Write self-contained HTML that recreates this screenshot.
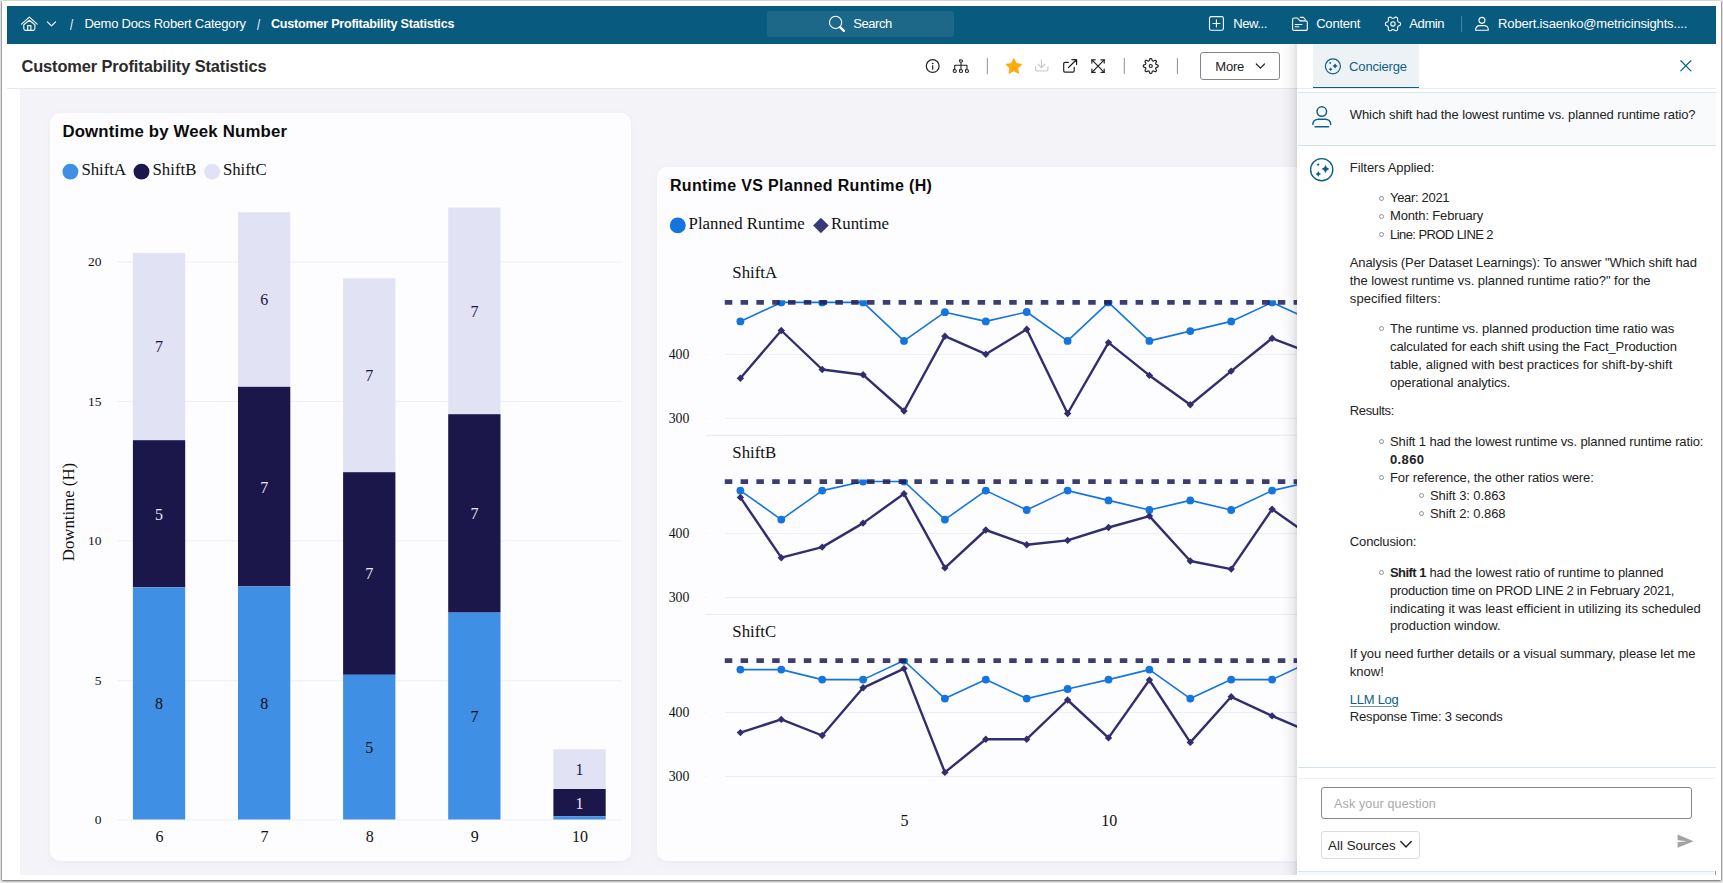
<!DOCTYPE html>
<html lang="en"><head><meta charset="utf-8">
<title>Customer Profitability Statistics</title>
<style>
html,body{margin:0;padding:0}
body{width:1723px;height:883px;overflow:hidden;position:relative;background:#ececec;font-family:"Liberation Sans",sans-serif;color:#222}
.abs{position:absolute}
.t{position:absolute;white-space:nowrap;line-height:1;display:block}
#frame{position:absolute;left:2px;top:1px;width:1719px;height:879px;background:#fff;box-shadow:0 1px 2px rgba(0,0,0,.55),-1px 0 1px rgba(0,0,0,.17),1px 0 1px rgba(0,0,0,.17)}
#hdr{position:absolute;left:7px;top:6px;width:1709px;height:38px;background:#085a7e}
#search{position:absolute;left:767px;top:11px;width:187px;height:26px;border-radius:3px;background:#1d6788}
#dash{position:absolute;left:20px;top:88px;width:1277px;height:787px;background:#f3f3f8}
#tbline{position:absolute;left:7px;top:88px;width:1290px;height:1px;background:#e6e6ec}
.card{position:absolute;background:#fdfdff;border-radius:10px;box-shadow:0 2px 8px rgba(90,90,160,.05)}
#panel{position:absolute;left:1297px;top:44px;width:419px;height:831px;background:#fff}
#pshadow{position:absolute;left:1281px;top:44px;width:16px;height:831px;background:linear-gradient(to right,rgba(0,0,0,0) 0%,rgba(0,0,0,.025) 45%,rgba(0,0,0,.07) 80%,rgba(0,0,0,.13) 100%)}
#more{position:absolute;left:1200px;top:52px;width:78px;height:26px;border:1px solid #858585;border-radius:3px;background:#fff}
#tab{position:absolute;left:1313px;top:44px;width:106px;height:43.4px;background:#ecf2f6;border-bottom:1.6px solid #0f5f85}
#qa{position:absolute;left:1298px;top:92px;width:418px;height:54px;background:#f8fafb;border-top:1px solid #d9e6ed;border-bottom:1px solid #d3e2ea;box-sizing:border-box}
#ask{position:absolute;left:1321px;top:787px;width:371px;height:31.5px;border:1px solid #888;border-radius:3px;box-sizing:border-box;background:#fff}
#src{position:absolute;left:1321px;top:831px;width:99px;height:28px;border:1px solid #dcdcdc;border-radius:3px;box-sizing:border-box;background:#fff}
.hl{position:absolute;height:1px}
.bul{position:absolute;width:3px;height:3px;border:.8px solid #939393;border-radius:50%}
svg{position:absolute;left:0;top:0;overflow:visible}
svg text{font-family:"Liberation Serif",serif}
</style></head><body>
<div id="frame"></div>
<div id="hdr"></div>
<div id="search"></div>
<div id="dash"></div>
<div id="tbline"></div>
<div class="card" style="left:50px;top:112.5px;width:581px;height:748px"></div>
<div class="card" style="left:656.5px;top:166.5px;width:700px;height:694px"></div>

<svg width="1723" height="883" viewBox="0 0 1723 883">
<line x1="117" x2="621.5" y1="262.1" y2="262.1" stroke="#eeeef8" stroke-width="1"/>
<line x1="117" x2="621.5" y1="401.4" y2="401.4" stroke="#eeeef8" stroke-width="1"/>
<line x1="117" x2="621.5" y1="540.8" y2="540.8" stroke="#eeeef8" stroke-width="1"/>
<line x1="117" x2="621.5" y1="680.7" y2="680.7" stroke="#eeeef8" stroke-width="1"/>
<line x1="117" x2="621.5" y1="819.9" y2="819.9" stroke="#eeeef8" stroke-width="1"/>
<rect x="132.9" y="252.9" width="52.3" height="187.3" fill="#e1e2f3"/>
<rect x="132.9" y="440.2" width="52.3" height="147.1" fill="#1b174b"/>
<rect x="132.9" y="587.3" width="52.3" height="232.2" fill="#3f90e5"/>
<text x="159.1" y="709.3" font-size="16" text-anchor="middle" fill="#0a0a14">8</text>
<text x="159.1" y="519.6" font-size="16" text-anchor="middle" fill="#e9e9f6">5</text>
<text x="159.1" y="352.4" font-size="16" text-anchor="middle" fill="#1b174b">7</text>
<text x="159.5" y="842.2" font-size="16" text-anchor="middle" fill="#111">6</text>
<rect x="238.0" y="212.2" width="52.3" height="174.6" fill="#e1e2f3"/>
<rect x="238.0" y="386.8" width="52.3" height="199.6" fill="#1b174b"/>
<rect x="238.0" y="586.4" width="52.3" height="233.1" fill="#3f90e5"/>
<text x="264.2" y="708.9" font-size="16" text-anchor="middle" fill="#0a0a14">8</text>
<text x="264.2" y="492.5" font-size="16" text-anchor="middle" fill="#e9e9f6">7</text>
<text x="264.2" y="305.4" font-size="16" text-anchor="middle" fill="#1b174b">6</text>
<text x="264.6" y="842.2" font-size="16" text-anchor="middle" fill="#111">7</text>
<rect x="343.1" y="278.4" width="52.3" height="193.8" fill="#e1e2f3"/>
<rect x="343.1" y="472.2" width="52.3" height="202.6" fill="#1b174b"/>
<rect x="343.1" y="674.8" width="52.3" height="144.7" fill="#3f90e5"/>
<text x="369.3" y="753.0" font-size="16" text-anchor="middle" fill="#0a0a14">5</text>
<text x="369.3" y="579.4" font-size="16" text-anchor="middle" fill="#e9e9f6">7</text>
<text x="369.3" y="381.2" font-size="16" text-anchor="middle" fill="#1b174b">7</text>
<text x="369.7" y="842.2" font-size="16" text-anchor="middle" fill="#111">8</text>
<rect x="448.2" y="207.7" width="52.3" height="206.5" fill="#e1e2f3"/>
<rect x="448.2" y="414.2" width="52.3" height="198.4" fill="#1b174b"/>
<rect x="448.2" y="612.6" width="52.3" height="206.9" fill="#3f90e5"/>
<text x="474.4" y="721.9" font-size="16" text-anchor="middle" fill="#0a0a14">7</text>
<text x="474.4" y="519.3" font-size="16" text-anchor="middle" fill="#e9e9f6">7</text>
<text x="474.4" y="316.8" font-size="16" text-anchor="middle" fill="#1b174b">7</text>
<text x="474.8" y="842.2" font-size="16" text-anchor="middle" fill="#111">9</text>
<rect x="553.4" y="749.3" width="52.3" height="39.7" fill="#e1e2f3"/>
<rect x="553.4" y="789.0" width="52.3" height="27.3" fill="#1b174b"/>
<rect x="553.4" y="816.3" width="52.3" height="3.2" fill="#3f90e5"/>
<text x="579.5" y="808.5" font-size="16" text-anchor="middle" fill="#e9e9f6">1</text>
<text x="579.5" y="775.0" font-size="16" text-anchor="middle" fill="#1b174b">1</text>
<text x="579.9" y="842.2" font-size="16" text-anchor="middle" fill="#111">10</text>
<text x="101.5" y="266.2" font-size="13.5" text-anchor="end" fill="#111">20</text>
<text x="101.5" y="405.5" font-size="13.5" text-anchor="end" fill="#111">15</text>
<text x="101.5" y="544.9" font-size="13.5" text-anchor="end" fill="#111">10</text>
<text x="101.5" y="684.8" font-size="13.5" text-anchor="end" fill="#111">5</text>
<text x="101.5" y="824.0" font-size="13.5" text-anchor="end" fill="#111">0</text>
<text transform="translate(73.5 512) rotate(-90)" font-size="16.8" text-anchor="middle" fill="#111">Downtime (H)</text>
<circle cx="70.4" cy="171.6" r="7.95" fill="#3f90e5"/>
<circle cx="141.5" cy="171.6" r="7.95" fill="#1b174b"/>
<circle cx="212.1" cy="171.6" r="7.95" fill="#e1e2f3"/>
<text x="81.4" y="174.8" font-size="16.8" fill="#111">ShiftA</text>
<text x="152.5" y="174.8" font-size="16.8" fill="#111">ShiftB</text>
<text x="222.9" y="174.8" font-size="16.8" fill="#111">ShiftC</text>
<line x1="725" x2="1340" y1="354.4" y2="354.4" stroke="#eeeef8" stroke-width="1"/>
<line x1="705" x2="706.4" y1="354.4" y2="354.4" stroke="#eeeef8" stroke-width="1"/>
<text x="668.7" y="358.8" font-size="13.8" fill="#111">400</text>
<line x1="725" x2="1340" y1="418.4" y2="418.4" stroke="#eeeef8" stroke-width="1"/>
<line x1="705" x2="706.4" y1="418.4" y2="418.4" stroke="#eeeef8" stroke-width="1"/>
<text x="668.7" y="423.3" font-size="13.8" fill="#111">300</text>
<line x1="706" x2="1340" y1="435.3" y2="435.3" stroke="#e9e9f2" stroke-width="1"/>
<text x="732.3" y="278.2" font-size="16.8" fill="#111">ShiftA</text>
<polyline points="740.4,321.4 781.3,302.4 822.2,302.4 863.1,302.4 904.0,340.9 944.9,312.2 985.8,321.4 1026.7,312.0 1067.6,340.9 1108.5,302.4 1149.4,340.9 1190.3,331.1 1231.2,321.4 1272.1,302.4 1313.0,321.0" fill="none" stroke="#1474e0" stroke-width="1.6" stroke-linejoin="round"/>
<clipPath id="clShiftA"><rect x="700" y="300.3" width="700" height="160"/></clipPath><g clip-path="url(#clShiftA)">
<circle cx="740.4" cy="321.4" r="3.9" fill="#1474e0"/>
<circle cx="781.3" cy="302.4" r="3.9" fill="#1474e0"/>
<circle cx="822.2" cy="302.4" r="3.9" fill="#1474e0"/>
<circle cx="863.1" cy="302.4" r="3.9" fill="#1474e0"/>
<circle cx="904.0" cy="340.9" r="3.9" fill="#1474e0"/>
<circle cx="944.9" cy="312.2" r="3.9" fill="#1474e0"/>
<circle cx="985.8" cy="321.4" r="3.9" fill="#1474e0"/>
<circle cx="1026.7" cy="312.0" r="3.9" fill="#1474e0"/>
<circle cx="1067.6" cy="340.9" r="3.9" fill="#1474e0"/>
<circle cx="1108.5" cy="302.4" r="3.9" fill="#1474e0"/>
<circle cx="1149.4" cy="340.9" r="3.9" fill="#1474e0"/>
<circle cx="1190.3" cy="331.1" r="3.9" fill="#1474e0"/>
<circle cx="1231.2" cy="321.4" r="3.9" fill="#1474e0"/>
<circle cx="1272.1" cy="302.4" r="3.9" fill="#1474e0"/>
<circle cx="1313.0" cy="321.0" r="3.9" fill="#1474e0"/>
</g>
<line x1="724.8" x2="1340" y1="302.4" y2="302.4" stroke="#1e1d57" stroke-opacity=".86" stroke-width="4.8" stroke-dasharray="7.5 8.3"/>
<polyline points="740.4,378.2 781.3,330.5 822.2,369.5 863.1,374.8 904.0,411.0 944.9,336.2 985.8,354.2 1026.7,329.3 1067.6,413.5 1108.5,342.6 1149.4,375.4 1190.3,404.7 1231.2,371.1 1272.1,338.3 1313.0,353.8" fill="none" stroke="#322e6e" stroke-width="2.4" stroke-linejoin="round"/>
<path d="M740.4 374.5l3.7 3.7l-3.7 3.7l-3.7 -3.7z" fill="#322e6e"/>
<path d="M781.3 326.8l3.7 3.7l-3.7 3.7l-3.7 -3.7z" fill="#322e6e"/>
<path d="M822.2 365.8l3.7 3.7l-3.7 3.7l-3.7 -3.7z" fill="#322e6e"/>
<path d="M863.1 371.1l3.7 3.7l-3.7 3.7l-3.7 -3.7z" fill="#322e6e"/>
<path d="M904.0 407.3l3.7 3.7l-3.7 3.7l-3.7 -3.7z" fill="#322e6e"/>
<path d="M944.9 332.5l3.7 3.7l-3.7 3.7l-3.7 -3.7z" fill="#322e6e"/>
<path d="M985.8 350.5l3.7 3.7l-3.7 3.7l-3.7 -3.7z" fill="#322e6e"/>
<path d="M1026.7 325.6l3.7 3.7l-3.7 3.7l-3.7 -3.7z" fill="#322e6e"/>
<path d="M1067.6 409.8l3.7 3.7l-3.7 3.7l-3.7 -3.7z" fill="#322e6e"/>
<path d="M1108.5 338.9l3.7 3.7l-3.7 3.7l-3.7 -3.7z" fill="#322e6e"/>
<path d="M1149.4 371.7l3.7 3.7l-3.7 3.7l-3.7 -3.7z" fill="#322e6e"/>
<path d="M1190.3 401.0l3.7 3.7l-3.7 3.7l-3.7 -3.7z" fill="#322e6e"/>
<path d="M1231.2 367.4l3.7 3.7l-3.7 3.7l-3.7 -3.7z" fill="#322e6e"/>
<path d="M1272.1 334.6l3.7 3.7l-3.7 3.7l-3.7 -3.7z" fill="#322e6e"/>
<path d="M1313.0 350.1l3.7 3.7l-3.7 3.7l-3.7 -3.7z" fill="#322e6e"/>
<line x1="725" x2="1340" y1="533.4" y2="533.4" stroke="#eeeef8" stroke-width="1"/>
<line x1="705" x2="706.4" y1="533.4" y2="533.4" stroke="#eeeef8" stroke-width="1"/>
<text x="668.7" y="537.8" font-size="13.8" fill="#111">400</text>
<line x1="725" x2="1340" y1="597.5" y2="597.5" stroke="#eeeef8" stroke-width="1"/>
<line x1="705" x2="706.4" y1="597.5" y2="597.5" stroke="#eeeef8" stroke-width="1"/>
<text x="668.7" y="602.4" font-size="13.8" fill="#111">300</text>
<line x1="706" x2="1340" y1="614.4" y2="614.4" stroke="#e9e9f2" stroke-width="1"/>
<text x="732.3" y="457.7" font-size="16.8" fill="#111">ShiftB</text>
<polyline points="740.4,490.6 781.3,519.6 822.2,490.6 863.1,481.5 904.0,481.5 944.9,519.6 985.8,490.6 1026.7,510.0 1067.6,490.6 1108.5,500.4 1149.4,510.0 1190.3,500.4 1231.2,510.0 1272.1,490.6 1313.0,481.3" fill="none" stroke="#1474e0" stroke-width="1.6" stroke-linejoin="round"/>
<clipPath id="clShiftB"><rect x="700" y="479.6" width="700" height="160"/></clipPath><g clip-path="url(#clShiftB)">
<circle cx="740.4" cy="490.6" r="3.9" fill="#1474e0"/>
<circle cx="781.3" cy="519.6" r="3.9" fill="#1474e0"/>
<circle cx="822.2" cy="490.6" r="3.9" fill="#1474e0"/>
<circle cx="863.1" cy="481.5" r="3.9" fill="#1474e0"/>
<circle cx="904.0" cy="481.5" r="3.9" fill="#1474e0"/>
<circle cx="944.9" cy="519.6" r="3.9" fill="#1474e0"/>
<circle cx="985.8" cy="490.6" r="3.9" fill="#1474e0"/>
<circle cx="1026.7" cy="510.0" r="3.9" fill="#1474e0"/>
<circle cx="1067.6" cy="490.6" r="3.9" fill="#1474e0"/>
<circle cx="1108.5" cy="500.4" r="3.9" fill="#1474e0"/>
<circle cx="1149.4" cy="510.0" r="3.9" fill="#1474e0"/>
<circle cx="1190.3" cy="500.4" r="3.9" fill="#1474e0"/>
<circle cx="1231.2" cy="510.0" r="3.9" fill="#1474e0"/>
<circle cx="1272.1" cy="490.6" r="3.9" fill="#1474e0"/>
<circle cx="1313.0" cy="481.3" r="3.9" fill="#1474e0"/>
</g>
<line x1="724.8" x2="1340" y1="481.7" y2="481.7" stroke="#1e1d57" stroke-opacity=".86" stroke-width="4.8" stroke-dasharray="7.5 8.3"/>
<polyline points="740.4,497.4 781.3,557.7 822.2,547.1 863.1,523.1 904.0,493.7 944.9,567.9 985.8,530.0 1026.7,544.7 1067.6,540.4 1108.5,527.5 1149.4,516.1 1190.3,561.0 1231.2,569.1 1272.1,509.2 1313.0,538.1" fill="none" stroke="#322e6e" stroke-width="2.4" stroke-linejoin="round"/>
<path d="M740.4 493.7l3.7 3.7l-3.7 3.7l-3.7 -3.7z" fill="#322e6e"/>
<path d="M781.3 554.0l3.7 3.7l-3.7 3.7l-3.7 -3.7z" fill="#322e6e"/>
<path d="M822.2 543.4l3.7 3.7l-3.7 3.7l-3.7 -3.7z" fill="#322e6e"/>
<path d="M863.1 519.4l3.7 3.7l-3.7 3.7l-3.7 -3.7z" fill="#322e6e"/>
<path d="M904.0 490.0l3.7 3.7l-3.7 3.7l-3.7 -3.7z" fill="#322e6e"/>
<path d="M944.9 564.2l3.7 3.7l-3.7 3.7l-3.7 -3.7z" fill="#322e6e"/>
<path d="M985.8 526.3l3.7 3.7l-3.7 3.7l-3.7 -3.7z" fill="#322e6e"/>
<path d="M1026.7 541.0l3.7 3.7l-3.7 3.7l-3.7 -3.7z" fill="#322e6e"/>
<path d="M1067.6 536.7l3.7 3.7l-3.7 3.7l-3.7 -3.7z" fill="#322e6e"/>
<path d="M1108.5 523.8l3.7 3.7l-3.7 3.7l-3.7 -3.7z" fill="#322e6e"/>
<path d="M1149.4 512.4l3.7 3.7l-3.7 3.7l-3.7 -3.7z" fill="#322e6e"/>
<path d="M1190.3 557.3l3.7 3.7l-3.7 3.7l-3.7 -3.7z" fill="#322e6e"/>
<path d="M1231.2 565.4l3.7 3.7l-3.7 3.7l-3.7 -3.7z" fill="#322e6e"/>
<path d="M1272.1 505.5l3.7 3.7l-3.7 3.7l-3.7 -3.7z" fill="#322e6e"/>
<path d="M1313.0 534.4l3.7 3.7l-3.7 3.7l-3.7 -3.7z" fill="#322e6e"/>
<line x1="725" x2="1340" y1="712.4" y2="712.4" stroke="#eeeef8" stroke-width="1"/>
<line x1="705" x2="706.4" y1="712.4" y2="712.4" stroke="#eeeef8" stroke-width="1"/>
<text x="668.7" y="716.8" font-size="13.8" fill="#111">400</text>
<line x1="725" x2="1340" y1="776.5" y2="776.5" stroke="#eeeef8" stroke-width="1"/>
<line x1="705" x2="706.4" y1="776.5" y2="776.5" stroke="#eeeef8" stroke-width="1"/>
<text x="668.7" y="781.4" font-size="13.8" fill="#111">300</text>
<text x="732.3" y="636.6999999999999" font-size="16.8" fill="#111">ShiftC</text>
<polyline points="740.4,669.6 781.3,669.6 822.2,679.6 863.1,679.6 904.0,660.5 944.9,698.6 985.8,679.6 1026.7,698.6 1067.6,689.0 1108.5,679.6 1149.4,669.6 1190.3,698.6 1231.2,679.6 1272.1,679.6 1313.0,660.5" fill="none" stroke="#1474e0" stroke-width="1.6" stroke-linejoin="round"/>
<clipPath id="clShiftC"><rect x="700" y="658.6" width="700" height="160"/></clipPath><g clip-path="url(#clShiftC)">
<circle cx="740.4" cy="669.6" r="3.9" fill="#1474e0"/>
<circle cx="781.3" cy="669.6" r="3.9" fill="#1474e0"/>
<circle cx="822.2" cy="679.6" r="3.9" fill="#1474e0"/>
<circle cx="863.1" cy="679.6" r="3.9" fill="#1474e0"/>
<circle cx="904.0" cy="660.5" r="3.9" fill="#1474e0"/>
<circle cx="944.9" cy="698.6" r="3.9" fill="#1474e0"/>
<circle cx="985.8" cy="679.6" r="3.9" fill="#1474e0"/>
<circle cx="1026.7" cy="698.6" r="3.9" fill="#1474e0"/>
<circle cx="1067.6" cy="689.0" r="3.9" fill="#1474e0"/>
<circle cx="1108.5" cy="679.6" r="3.9" fill="#1474e0"/>
<circle cx="1149.4" cy="669.6" r="3.9" fill="#1474e0"/>
<circle cx="1190.3" cy="698.6" r="3.9" fill="#1474e0"/>
<circle cx="1231.2" cy="679.6" r="3.9" fill="#1474e0"/>
<circle cx="1272.1" cy="679.6" r="3.9" fill="#1474e0"/>
<circle cx="1313.0" cy="660.5" r="3.9" fill="#1474e0"/>
</g>
<line x1="724.8" x2="1340" y1="660.7" y2="660.7" stroke="#1e1d57" stroke-opacity=".86" stroke-width="4.8" stroke-dasharray="7.5 8.3"/>
<polyline points="740.4,732.6 781.3,719.4 822.2,735.5 863.1,687.8 904.0,668.6 944.9,772.4 985.8,739.2 1026.7,739.2 1067.6,700.0 1108.5,737.9 1149.4,680.0 1190.3,742.4 1231.2,696.8 1272.1,715.9 1313.0,733.4" fill="none" stroke="#322e6e" stroke-width="2.4" stroke-linejoin="round"/>
<path d="M740.4 728.9l3.7 3.7l-3.7 3.7l-3.7 -3.7z" fill="#322e6e"/>
<path d="M781.3 715.7l3.7 3.7l-3.7 3.7l-3.7 -3.7z" fill="#322e6e"/>
<path d="M822.2 731.8l3.7 3.7l-3.7 3.7l-3.7 -3.7z" fill="#322e6e"/>
<path d="M863.1 684.1l3.7 3.7l-3.7 3.7l-3.7 -3.7z" fill="#322e6e"/>
<path d="M904.0 664.9l3.7 3.7l-3.7 3.7l-3.7 -3.7z" fill="#322e6e"/>
<path d="M944.9 768.7l3.7 3.7l-3.7 3.7l-3.7 -3.7z" fill="#322e6e"/>
<path d="M985.8 735.5l3.7 3.7l-3.7 3.7l-3.7 -3.7z" fill="#322e6e"/>
<path d="M1026.7 735.5l3.7 3.7l-3.7 3.7l-3.7 -3.7z" fill="#322e6e"/>
<path d="M1067.6 696.3l3.7 3.7l-3.7 3.7l-3.7 -3.7z" fill="#322e6e"/>
<path d="M1108.5 734.2l3.7 3.7l-3.7 3.7l-3.7 -3.7z" fill="#322e6e"/>
<path d="M1149.4 676.3l3.7 3.7l-3.7 3.7l-3.7 -3.7z" fill="#322e6e"/>
<path d="M1190.3 738.7l3.7 3.7l-3.7 3.7l-3.7 -3.7z" fill="#322e6e"/>
<path d="M1231.2 693.1l3.7 3.7l-3.7 3.7l-3.7 -3.7z" fill="#322e6e"/>
<path d="M1272.1 712.2l3.7 3.7l-3.7 3.7l-3.7 -3.7z" fill="#322e6e"/>
<path d="M1313.0 729.7l3.7 3.7l-3.7 3.7l-3.7 -3.7z" fill="#322e6e"/>
<text x="904.4" y="826.2" font-size="16" text-anchor="middle" fill="#111">5</text>
<text x="1109.2" y="826.2" font-size="16" text-anchor="middle" fill="#111">10</text>
<circle cx="677.8" cy="225.4" r="7.95" fill="#1474e0"/>
<text x="688.6" y="228.5" font-size="16.8" fill="#111">Planned Runtime</text>
<path d="M820.9 217.8l7.8 7.7l-7.8 7.7l-7.8 -7.7z" fill="#3a3878"/>
<text x="831.1" y="228.5" font-size="16.8" fill="#111">Runtime</text>
</svg>
<svg width="1723" height="883" viewBox="0 0 1723 883">
<g stroke="#fff" fill="none" stroke-width="1.1" stroke-linecap="round" stroke-linejoin="round">
<path d="M21.5 24.1L29.35 17.1L37.2 24.1"/>
<path d="M23.8 24.7L29.35 20.3L34.9 24.7V28.6a1.8 1.8 0 0 1 -1.8 1.8H25.6a1.8 1.8 0 0 1 -1.8 -1.8Z"/>
<path d="M27.7 30.3V25.6H30.9V30.3"/>
<path d="M47.4 21.8L51.5 25.9L55.6 21.8"/>
<circle cx="835.6" cy="22.4" r="6.1"/>
<path d="M840.3 27.4L843.9 30.9" stroke-width="2.3"/>
<rect x="1209.5" y="16.6" width="13.9" height="13.7" rx="1.8"/>
<path d="M1216.4 19.9V27M1212.85 23.45H1219.95"/>
<path d="M1292.6 19.4a1.4 1.4 0 0 1 1.4 -1.4H1297.4l2.6 2.9h5.9a1.4 1.4 0 0 1 1.4 1.4V29a1.4 1.4 0 0 1 -1.4 1.4H1294a1.4 1.4 0 0 1 -1.4 -1.4Z"/>
<path d="M1300.3 17.4H1303.4l1.9 2.1"/>
<path d="M1295.2 24.5H1301.9M1295.2 26.7H1298.9"/>
<path d="M1461.6 16.6V31.6" stroke="#4d86a0" stroke-width="1"/>
<circle cx="1481.95" cy="20.35" r="3.0"/>
<path d="M1475.65 30.2v-.7a3.9 3.9 0 0 1 3.9 -3.9h4.8a3.9 3.9 0 0 1 3.9 3.9v.7Z"/>
</g>
<g transform="translate(1392.95 23.95)" stroke="#fff" fill="none" stroke-width="1.1" stroke-linecap="round" stroke-linejoin="round"><path d="M0.00 -5.65L0.25 -5.65L0.50 -5.67L0.75 -5.71L1.03 -5.83L1.34 -6.05L1.71 -6.38L2.11 -6.68L2.49 -6.85L2.85 -6.87L3.17 -6.81L3.48 -6.69L3.77 -6.54L4.05 -6.36L4.31 -6.15L4.53 -5.90L4.68 -5.58L4.73 -5.16L4.67 -4.67L4.57 -4.19L4.53 -3.80L4.57 -3.51L4.66 -3.26L4.77 -3.04L4.89 -2.83L5.02 -2.61L5.16 -2.40L5.32 -2.21L5.56 -2.02L5.91 -1.86L6.38 -1.71L6.84 -1.52L7.17 -1.26L7.37 -0.97L7.48 -0.65L7.53 -0.33L7.55 -0.00L7.53 0.33L7.48 0.65L7.37 0.97L7.17 1.26L6.84 1.52L6.38 1.71L5.91 1.86L5.56 2.02L5.32 2.21L5.16 2.40L5.02 2.61L4.89 2.82L4.77 3.04L4.66 3.26L4.57 3.51L4.53 3.80L4.57 4.19L4.67 4.67L4.73 5.16L4.68 5.58L4.53 5.90L4.31 6.15L4.05 6.36L3.78 6.54L3.48 6.69L3.17 6.81L2.85 6.87L2.49 6.85L2.11 6.68L1.71 6.38L1.34 6.05L1.03 5.83L0.75 5.71L0.50 5.67L0.25 5.65L0.00 5.65L-0.25 5.65L-0.50 5.67L-0.75 5.71L-1.03 5.83L-1.34 6.05L-1.71 6.38L-2.11 6.68L-2.49 6.85L-2.85 6.87L-3.17 6.81L-3.48 6.69L-3.78 6.54L-4.05 6.36L-4.31 6.15L-4.53 5.90L-4.68 5.58L-4.73 5.16L-4.67 4.67L-4.57 4.19L-4.53 3.80L-4.57 3.51L-4.66 3.26L-4.77 3.04L-4.89 2.83L-5.02 2.61L-5.16 2.40L-5.32 2.21L-5.56 2.02L-5.91 1.86L-6.38 1.71L-6.84 1.52L-7.17 1.26L-7.37 0.97L-7.48 0.65L-7.53 0.33L-7.55 0.00L-7.53 -0.33L-7.48 -0.65L-7.37 -0.97L-7.17 -1.26L-6.84 -1.52L-6.38 -1.71L-5.91 -1.86L-5.56 -2.02L-5.32 -2.21L-5.16 -2.40L-5.02 -2.61L-4.89 -2.82L-4.77 -3.04L-4.66 -3.26L-4.57 -3.51L-4.53 -3.80L-4.57 -4.19L-4.67 -4.67L-4.73 -5.16L-4.68 -5.58L-4.53 -5.90L-4.31 -6.15L-4.05 -6.36L-3.77 -6.54L-3.48 -6.69L-3.17 -6.81L-2.85 -6.87L-2.49 -6.85L-2.11 -6.68L-1.71 -6.38L-1.34 -6.05L-1.03 -5.83L-0.75 -5.71L-0.50 -5.67L-0.25 -5.65Z"/><circle cx="0" cy="0" r="2.15"/></g>
</svg>
<div id="more"></div>
<svg width="1723" height="883" viewBox="0 0 1723 883">
<g stroke="#222" fill="none" stroke-width="1.2" stroke-linecap="round" stroke-linejoin="round">
<circle cx="932.7" cy="66.05" r="6.4"/>
<path d="M932.7 65.6V69.2"/><circle cx="932.7" cy="63.5" r="0.45" fill="#222" stroke-width=".6"/>
<g stroke-width="1" stroke-linejoin="miter"><rect x="959.55" y="59.95" width="2.9" height="2.1" rx=".3"/>
<rect x="953.3" y="69.75" width="2.9" height="2.6" rx=".3"/>
<rect x="959.5" y="69.75" width="2.9" height="2.6" rx=".3"/>
<rect x="965.5" y="69.75" width="2.9" height="2.6" rx=".3"/></g>
<path d="M961 62.5V69.3M954.75 69.3V65.3H966.95V69.3" stroke-width="1.1"/>
<path d="M987.3 58.4V73.7M1124.3 58.4V73.7M1177.4 58.4V73.7" stroke="#8f8f8f" stroke-width="1"/>
<path d="M1013.85 59.05L1016.05 63.72L1021.17 64.37L1017.42 67.91L1018.38 72.98L1013.85 70.50L1009.32 72.98L1010.28 67.91L1006.53 64.37L1011.65 63.72Z" fill="#ffab0a" stroke="#ffab0a" stroke-width="1.4"/>
<g stroke="#c8c8c8"><path d="M1041.5 59.8V67.5M1038 64.2L1041.5 67.7L1045 64.2M1035.6 66.9V69.6a1.4 1.4 0 0 0 1.4 1.4H1046.5a1.4 1.4 0 0 0 1.4 -1.4V66.9"/></g>
<path d="M1068.4 62.3H1065a1.3 1.3 0 0 0 -1.3 1.3V70.8a1.3 1.3 0 0 0 1.3 1.3H1072.9a1.3 1.3 0 0 0 1.3 -1.3V67.4"/>
<path d="M1071.8 59.6H1076.6V64.4M1076.4 59.8L1068.5 67.5"/>
<path d="M1091.9 59.8L1104.2 72.3M1104.2 59.8L1091.9 72.3"/>
<path d="M1091.9 63.1V59.8H1095.2M1100.9 59.8H1104.2V63.1M1104.2 69V72.3H1100.9M1095.2 72.3H1091.9V69"/>
<path d="M1256.3 64L1260.4 68.1L1264.5 64" stroke-width="1.2"/>
</g>
<g transform="translate(1150.75 66)" stroke="#222" fill="none" stroke-width="1.2" stroke-linecap="round" stroke-linejoin="round"><path d="M0.00 -7.45L0.32 -7.43L0.64 -7.33L0.94 -7.11L1.17 -6.64L1.33 -6.01L1.48 -5.53L1.67 -5.28L1.87 -5.14L2.09 -5.04L2.31 -4.96L2.56 -4.91L2.86 -4.96L3.31 -5.19L3.87 -5.52L4.37 -5.69L4.73 -5.64L5.02 -5.48L5.27 -5.27L5.48 -5.02L5.64 -4.73L5.69 -4.37L5.52 -3.87L5.19 -3.31L4.96 -2.86L4.91 -2.56L4.96 -2.31L5.04 -2.09L5.14 -1.87L5.28 -1.67L5.53 -1.48L6.01 -1.33L6.64 -1.17L7.11 -0.94L7.33 -0.64L7.43 -0.32L7.45 -0.00L7.43 0.32L7.33 0.64L7.11 0.94L6.64 1.17L6.01 1.33L5.53 1.48L5.28 1.67L5.14 1.87L5.04 2.09L4.96 2.31L4.91 2.56L4.96 2.86L5.19 3.31L5.52 3.87L5.69 4.37L5.64 4.73L5.48 5.02L5.27 5.27L5.02 5.48L4.73 5.64L4.37 5.69L3.87 5.52L3.31 5.19L2.86 4.96L2.56 4.91L2.31 4.96L2.09 5.04L1.87 5.14L1.67 5.28L1.48 5.53L1.33 6.01L1.17 6.64L0.94 7.11L0.64 7.33L0.32 7.43L0.00 7.45L-0.32 7.43L-0.64 7.33L-0.94 7.11L-1.17 6.64L-1.33 6.01L-1.48 5.53L-1.67 5.28L-1.87 5.14L-2.09 5.04L-2.31 4.96L-2.56 4.91L-2.86 4.96L-3.31 5.19L-3.87 5.52L-4.37 5.69L-4.73 5.64L-5.02 5.48L-5.27 5.27L-5.48 5.02L-5.64 4.73L-5.69 4.37L-5.52 3.87L-5.19 3.31L-4.96 2.86L-4.91 2.56L-4.96 2.31L-5.04 2.09L-5.14 1.87L-5.28 1.67L-5.53 1.48L-6.01 1.33L-6.64 1.17L-7.11 0.94L-7.33 0.64L-7.43 0.32L-7.45 0.00L-7.43 -0.32L-7.33 -0.64L-7.11 -0.94L-6.64 -1.17L-6.01 -1.33L-5.53 -1.48L-5.28 -1.67L-5.14 -1.87L-5.04 -2.09L-4.96 -2.31L-4.91 -2.56L-4.96 -2.86L-5.19 -3.31L-5.52 -3.87L-5.69 -4.37L-5.64 -4.73L-5.48 -5.02L-5.27 -5.27L-5.02 -5.48L-4.73 -5.64L-4.37 -5.69L-3.87 -5.52L-3.31 -5.19L-2.86 -4.96L-2.56 -4.91L-2.31 -4.96L-2.09 -5.04L-1.87 -5.14L-1.67 -5.28L-1.48 -5.53L-1.33 -6.01L-1.17 -6.64L-0.94 -7.11L-0.64 -7.33L-0.32 -7.43Z"/><circle cx="0" cy="0" r="1.5"/></g>
</svg>
<div id="pshadow"></div><div id="panel"></div>
<div class="hl" style="left:1297px;top:88px;width:419px;background:#ebebeb"></div>
<div id="tab"></div><div id="qa"></div>
<div class="hl" style="left:1298px;top:767px;width:418px;background:#d5e3ea"></div>
<div class="hl" style="left:1298px;top:778px;width:418px;background:#eef1f3"></div>
<div class="abs" style="left:1298px;top:871px;width:416px;height:4px;background:#f5f8fa;border-top:1px solid #d9e6ed;box-sizing:border-box"></div><div class="abs" style="left:1715px;top:870.5px;width:1px;height:4.5px;background:#8c979e"></div>
<div id="ask"></div><div id="src"></div>
<svg width="1723" height="883" viewBox="0 0 1723 883">
<g stroke="#0f5f85" fill="none" stroke-width="1.3" stroke-linecap="round" stroke-linejoin="round">
<circle cx="1332.9" cy="66.3" r="7.5" stroke-width="1.2"/>
<path d="M1335.10 63.40Q1335.95 65.05 1337.60 65.90Q1335.95 66.75 1335.10 68.40Q1334.25 66.75 1332.60 65.90Q1334.25 65.05 1335.10 63.40Z" fill="#0f5f85" stroke="none"/>
<path d="M1330.60 67.45Q1331.19 68.61 1332.35 69.20Q1331.19 69.80 1330.60 70.95Q1330.00 69.80 1328.85 69.20Q1330.00 68.61 1330.60 67.45Z" fill="#0f5f85" stroke="none"/>
<circle cx="1330.2" cy="62.9" r=".95" fill="#0f5f85" stroke="none"/>
<path d="M1680.8 60.8L1690.9 70.9M1690.9 60.8L1680.8 70.9" stroke-width="1.25"/>
<circle cx="1321.8" cy="111.6" r="4.75" stroke-width="1.5"/>
<path d="M1312.9 124.4C1312.7 121 1315.4 119.2 1318.4 119.2H1325.2C1328.2 119.2 1330.9 121 1330.7 124.4" stroke-width="1.5"/>
<path d="M1315 126.7H1328.6" stroke-width="1.5"/>
<circle cx="1321.7" cy="169.7" r="11.1" stroke-width="1.4"/>
<path d="M1325.50 164.85Q1326.34 168.21 1329.70 169.05Q1326.34 169.89 1325.50 173.25Q1324.66 169.89 1321.30 169.05Q1324.66 168.21 1325.50 164.85Z" fill="#0f5f85" stroke="none"/>
<path d="M1318.30 171.00Q1318.88 173.32 1321.20 173.90Q1318.88 174.48 1318.30 176.80Q1317.72 174.48 1315.40 173.90Q1317.72 173.32 1318.30 171.00Z" fill="#0f5f85" stroke="none"/>
<path d="M1318.10 163.00Q1318.58 164.12 1319.70 164.60Q1318.58 165.08 1318.10 166.20Q1317.62 165.08 1316.50 164.60Q1317.62 164.12 1318.10 163.00Z" fill="#0f5f85" stroke="none"/>
</g>
<path d="M1400.8 841.6L1406 846.9L1411.2 841.6" stroke="#222" fill="none" stroke-width="1.4" stroke-linecap="round" stroke-linejoin="round"/>
<path d="M1677.6 834.6L1693.6 841.2L1677.6 847.8V842.2L1687 841.2L1677.6 840.2Z" fill="#a3a3a3"/>
</svg>
<div class="bul" style="left:1379.4px;top:195.5px"></div>
<div class="bul" style="left:1379.4px;top:213.6px"></div>
<div class="bul" style="left:1379.4px;top:232.2px"></div>
<div class="bul" style="left:1379.4px;top:326.4px"></div>
<div class="bul" style="left:1379.4px;top:438.8px"></div>
<div class="bul" style="left:1379.4px;top:474.8px"></div>
<div class="bul" style="left:1419.3px;top:493.4px"></div>
<div class="bul" style="left:1419.3px;top:511.4px"></div>
<div class="bul" style="left:1379.4px;top:569.8px"></div>
<span class="t" id="ct1" style="left:62.40px;top:123.78px;font-size:16.8px;font-weight:700;color:#0b0b0b;letter-spacing:0.178px;">Downtime by Week Number</span>
<span class="t" id="ct2" style="left:669.90px;top:177.66px;font-size:16px;font-weight:700;color:#0b0b0b;letter-spacing:0.360px;">Runtime VS Planned Runtime (H)</span>
<span class="t" id="bc1" style="left:70.00px;top:17.08px;font-size:15.5px;color:#fff;transform:scaleX(.72);transform-origin:0 0;">/</span>
<span class="t" id="bc2" style="left:84.40px;top:17.40px;font-size:13px;color:#fff;letter-spacing:-0.221px;">Demo Docs Robert Category</span>
<span class="t" id="bc3" style="left:257.30px;top:17.08px;font-size:15.5px;color:#fff;transform:scaleX(.72);transform-origin:0 0;">/</span>
<span class="t" id="bc4" style="left:271.00px;top:17.73px;font-size:12.6px;font-weight:700;color:#fff;letter-spacing:-0.239px;">Customer Profitability Statistics</span>
<span class="t" id="srch" style="left:853.30px;top:17.40px;font-size:13px;color:#fff;letter-spacing:-0.439px;">Search</span>
<span class="t" id="new" style="left:1233.30px;top:17.40px;font-size:13px;color:#fff;letter-spacing:-0.426px;">New...</span>
<span class="t" id="cont" style="left:1316.20px;top:17.40px;font-size:13px;color:#fff;letter-spacing:-0.206px;">Content</span>
<span class="t" id="adm" style="left:1409.30px;top:17.40px;font-size:13px;color:#fff;letter-spacing:-0.389px;">Admin</span>
<span class="t" id="mail" style="left:1498.10px;top:17.40px;font-size:13px;color:#fff;letter-spacing:-0.164px;">Robert.isaenko@metricinsights....</span>
<span class="t" id="ttl" style="left:21.50px;top:58.42px;font-size:16.4px;font-weight:700;color:#2b2b2b;letter-spacing:-0.114px;">Customer Profitability Statistics</span>
<span class="t" id="tmore" style="left:1215.30px;top:59.80px;font-size:13px;letter-spacing:-0.210px;">More</span>
<span class="t" id="conc" style="left:1349.10px;top:60.10px;font-size:13px;color:#0f5f85;letter-spacing:-0.158px;">Concierge</span>
<span class="t" id="q" style="left:1349.80px;top:107.60px;font-size:13px;letter-spacing:-0.090px;">Which shift had the lowest runtime vs. planned runtime ratio?</span>
<span class="t" id="p1" style="left:1349.80px;top:160.70px;font-size:13px;letter-spacing:-0.051px;">Filters Applied:</span>
<span class="t" id="p2" style="left:1390.00px;top:191.30px;font-size:13px;letter-spacing:-0.313px;">Year: 2021</span>
<span class="t" id="p3" style="left:1390.00px;top:209.40px;font-size:13px;letter-spacing:-0.148px;">Month: February</span>
<span class="t" id="p4" style="left:1390.00px;top:228.00px;font-size:13px;letter-spacing:-0.570px;">Line: PROD LINE 2</span>
<span class="t" id="p5" style="left:1349.80px;top:256.10px;font-size:13px;letter-spacing:-0.106px;">Analysis (Per Dataset Learnings): To answer "Which shift had</span>
<span class="t" id="p6" style="left:1349.80px;top:274.10px;font-size:13px;letter-spacing:-0.056px;">the lowest runtime vs. planned runtime ratio?" for the</span>
<span class="t" id="p7" style="left:1349.80px;top:292.10px;font-size:13px;letter-spacing:0.082px;">specified filters:</span>
<span class="t" id="p8" style="left:1390.00px;top:322.20px;font-size:13px;letter-spacing:-0.069px;">The runtime vs. planned production time ratio was</span>
<span class="t" id="p9" style="left:1390.00px;top:340.30px;font-size:13px;letter-spacing:-0.085px;">calculated for each shift using the Fact_Production</span>
<span class="t" id="p10" style="left:1390.00px;top:358.30px;font-size:13px;letter-spacing:0.037px;">table, aligned with best practices for shift-by-shift</span>
<span class="t" id="p11" style="left:1390.00px;top:376.30px;font-size:13px;letter-spacing:-0.083px;">operational analytics.</span>
<span class="t" id="p12" style="left:1349.80px;top:403.90px;font-size:13px;letter-spacing:-0.352px;">Results:</span>
<span class="t" id="p13" style="left:1390.00px;top:434.60px;font-size:13px;letter-spacing:-0.133px;">Shift 1 had the lowest runtime vs. planned runtime ratio:</span>
<span class="t" id="p14" style="left:1390.00px;top:452.60px;font-size:13px;font-weight:700;letter-spacing:0.364px;">0.860</span>
<span class="t" id="p15" style="left:1390.00px;top:470.60px;font-size:13px;letter-spacing:-0.099px;">For reference, the other ratios were:</span>
<span class="t" id="p16" style="left:1430.00px;top:489.20px;font-size:13px;letter-spacing:-0.079px;">Shift 3: 0.863</span>
<span class="t" id="p17" style="left:1430.00px;top:507.20px;font-size:13px;letter-spacing:-0.079px;">Shift 2: 0.868</span>
<span class="t" id="p18" style="left:1349.80px;top:535.40px;font-size:13px;letter-spacing:-0.133px;">Conclusion:</span>
<span class="t" id="p19" style="left:1390.00px;top:565.60px;font-size:13px;letter-spacing:-0.104px;"><b style="letter-spacing:-.55px">Shift 1</b> had the lowest ratio of runtime to planned</span>
<span class="t" id="p20" style="left:1390.00px;top:583.60px;font-size:13px;letter-spacing:-0.266px;">production time on PROD LINE 2 in February 2021,</span>
<span class="t" id="p21" style="left:1390.00px;top:601.50px;font-size:13px;letter-spacing:-0.009px;">indicating it was least efficient in utilizing its scheduled</span>
<span class="t" id="p22" style="left:1390.00px;top:619.40px;font-size:13px;letter-spacing:0.001px;">production window.</span>
<span class="t" id="p23" style="left:1349.80px;top:647.20px;font-size:13px;letter-spacing:-0.076px;">If you need further details or a visual summary, please let me</span>
<span class="t" id="p24" style="left:1349.80px;top:665.20px;font-size:13px;letter-spacing:0.035px;">know!</span>
<span class="t" id="p25" style="left:1349.80px;top:692.50px;font-size:13px;color:#0f5f85;letter-spacing:-0.266px;text-decoration:underline;text-underline-offset:2px;text-decoration-thickness:1px;text-decoration-color:rgba(15,95,133,.65);">LLM Log</span>
<span class="t" id="p26" style="left:1349.80px;top:710.20px;font-size:13px;letter-spacing:-0.170px;">Response Time: 3 seconds</span>
<span class="t" id="task" style="left:1334.00px;top:797.52px;font-size:12.5px;color:#a9a9a9;letter-spacing:0.152px;">Ask your question</span>
<span class="t" id="tsrc" style="left:1328.10px;top:838.64px;font-size:13.3px;letter-spacing:0.024px;">All Sources</span>
</body></html>
